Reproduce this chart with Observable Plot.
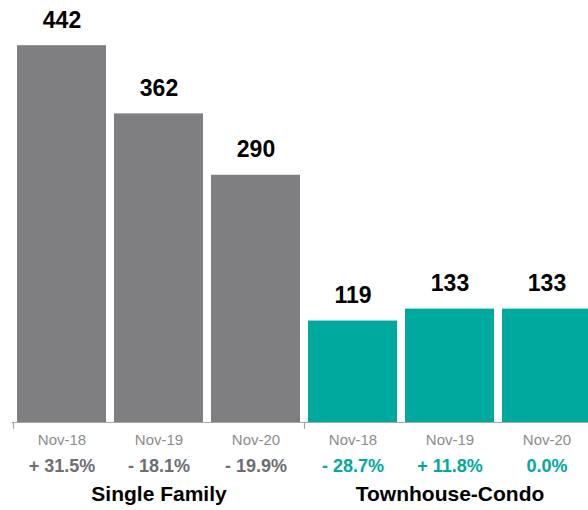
<!DOCTYPE html>
<html>
<head>
<meta charset="utf-8">
<script src="https://cdn.jsdelivr.net/npm/d3@7"></script>
<script src="https://cdn.jsdelivr.net/npm/@observablehq/plot@0.6"></script>
<style>
  html, body { margin: 0; padding: 0; overflow: hidden; background: #fff; }
  #chart { width: 595px; }
  #chart svg { display: block; max-width: none !important; }
</style>
</head>
<body>
<div id="chart"></div>
<script>
const groups = ["Single Family", "Townhouse-Condo"];
const periods = ["Nov-18", "Nov-19", "Nov-20"];
const singleFamily = [442, 362, 290];
const townhouseCondo = [119, 133, 133];
const singleFamilyChange = ["+ 31.5%", "- 18.1%", "- 19.9%"];
const townhouseCondoChange = ["- 28.7%", "+ 11.8%", "0.0%"];

const GRAY = "#7f7f82";
const TEAL = "#00a99d";

const rows = [];
periods.forEach((p, i) => rows.push({group: groups[0], period: p, key: groups[0] + "|" + p, value: singleFamily[i], change: singleFamilyChange[i]}));
periods.forEach((p, i) => rows.push({group: groups[1], period: p, key: groups[1] + "|" + p, value: townhouseCondo[i], change: townhouseCondoChange[i]}));
const keys = rows.map(d => d.key);
// group label sits under the middle period of each group
const groupRows = groups.map(g => ({group: g, key: g + "|" + periods[1]}));
const groupStarts = groups.map(g => ({group: g, key: g + "|" + periods[0]}));

const font = "'Liberation Sans', Arial, Helvetica, sans-serif";
const W = 595, ML = 12, PI = 0.085, PO = 0.0425;
const step = (W - ML) / (keys.length - PI + 2 * PO);

const chart = Plot.plot({
  width: W,
  height: 510,
  marginLeft: ML,
  marginRight: 0,
  marginTop: 0,
  marginBottom: 88,
  style: {fontFamily: font, background: "#fff", overflow: "visible", maxWidth: "none"},
  x: {domain: keys, paddingInner: PI, paddingOuter: PO, axis: null},
  y: {domain: [0, 495], axis: null},
  color: {domain: groups, range: [GRAY, TEAL]},
  marks: [
    Plot.barY(rows, {x: "key", y: "value", fill: "group"}),
    Plot.ruleY([0], {stroke: "#a8a8a8", strokeWidth: 1}),
    Plot.ruleX(groupStarts, {x: "key", dx: -step / 2, y1: 0, y2: -8, stroke: "#9a9a9a", strokeWidth: 1}),
    Plot.text(rows, {x: "key", y: "value", text: d => String(d.value), dy: -18, lineAnchor: "bottom", fontSize: 23, fontWeight: "bold", fill: "#000"}),
    Plot.text(rows, {x: "key", text: "period", frameAnchor: "bottom", lineAnchor: "bottom", dy: 22, fontSize: 15, fill: "#8c8c8c"}),
    Plot.text(rows.filter(d => d.group === groups[0]), {x: "key", text: "change", frameAnchor: "bottom", lineAnchor: "bottom", dy: 49, fontSize: 18, fontWeight: "bold", fill: "#6d6e71"}),
    Plot.text(rows.filter(d => d.group === groups[1]), {x: "key", text: "change", frameAnchor: "bottom", lineAnchor: "bottom", dy: 49, fontSize: 18, fontWeight: "bold", fill: TEAL}),
    Plot.text(groupRows, {x: "key", text: "group", frameAnchor: "bottom", lineAnchor: "bottom", dy: 78, fontSize: 21, fontWeight: "bold", fill: "#000"})
  ]
});
chart.style.maxWidth = "none";
document.getElementById("chart").appendChild(chart);
</script>
</body>
</html>
